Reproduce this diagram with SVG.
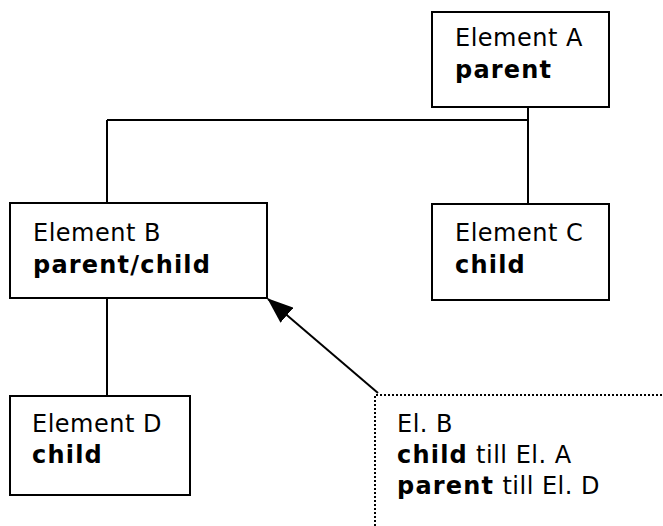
<svg xmlns="http://www.w3.org/2000/svg" width="663" height="526" viewBox="0 0 663 526">
  <defs>
    <style>
      .box { fill: #ffffff; stroke: #000000; stroke-width: 2; }
      .wire { fill: none; stroke: #000000; stroke-width: 2; }
      .note { fill: none; stroke: #000000; stroke-width: 2; stroke-dasharray: 2 2; }
      text { font-family: "DejaVu Sans", Verdana, sans-serif; font-size: 24px; letter-spacing: 0.5px; fill: #000000; }
      .b { font-weight: bold; letter-spacing: 1.2px; }
    </style>
    <marker id="head" markerWidth="26" markerHeight="20" refX="25" refY="10" orient="auto" markerUnits="userSpaceOnUse">
      <path d="M0,0 L26,10 L0,20 Z" fill="#000000"/>
    </marker>
  </defs>

  <!-- tree connectors -->
  <g id="connectors">
    <path class="wire" d="M528,107 V204"/>
    <path class="wire" d="M107,120 H528"/>
    <path class="wire" d="M107,120 V203"/>
    <path class="wire" d="M107,298 V396"/>
    <path class="wire" d="M378,393 L268,299" marker-end="url(#head)"/>
  </g>

  <g id="element-a">
    <rect class="box" x="432" y="12" width="177" height="95"/>
    <text x="455" y="46">Element A</text>
    <text class="b" x="455" y="78">parent</text>
  </g>

  <g id="element-b">
    <rect class="box" x="10" y="203" width="257" height="95"/>
    <text x="33" y="241">Element B</text>
    <text class="b" x="33" y="273">parent/child</text>
  </g>

  <g id="element-c">
    <rect class="box" x="432" y="204" width="177" height="96"/>
    <text x="455" y="241">Element C</text>
    <text class="b" x="455" y="273">child</text>
  </g>

  <g id="element-d">
    <rect class="box" x="10" y="396" width="180" height="99"/>
    <text x="32" y="432">Element D</text>
    <text class="b" x="32" y="463">child</text>
  </g>

  <!-- dotted callout describing Element B -->
  <g id="callout">
    <path class="note" d="M375,526 V395 H663"/>
    <text x="397" y="432">El. B</text>
    <text x="397" y="463"><tspan class="b">child</tspan> till El. A</text>
    <text x="397" y="494"><tspan class="b">parent</tspan> till El. D</text>
  </g>
</svg>
